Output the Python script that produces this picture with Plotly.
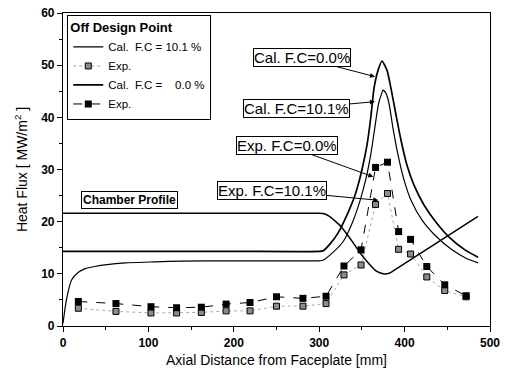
import plotly.graph_objects as go

# ---- data -----------------------------------------------------------------
# Calculated heat flux, film cooling 10.1 %
cal_fc101_x = [0, 4, 10, 18, 26, 37, 49, 73, 108, 139, 200, 260, 300, 304.4,
               318, 328.5, 339, 347.4, 354.4, 360.3, 365, 369.6, 373.2, 374.7,
               378.2, 381.7, 386.4, 392.3, 399.3, 407.5, 420.4, 436.8, 455.5,
               471.9, 486]
cal_fc101_y = [0.5, 5.0, 8.8, 10.3, 11.0, 11.4, 11.7, 12.1, 12.3, 12.45, 12.5,
               12.5, 12.5, 12.6, 14.4, 16.3, 19.9, 23.8, 28.0, 32.8, 37.9,
               42.7, 44.6, 45.2, 44.6, 42.7, 37.9, 32.8, 28.0, 24.1, 20.3,
               17.2, 14.6, 13.0, 12.1]

# Calculated heat flux, film cooling 0.0 %
cal_fc00_x = [0, 100, 200, 300, 304.4, 313, 322, 332.6, 342, 350, 356,
              360.7, 364.2, 368.9, 373.5, 379.4, 384, 390, 395.8, 402.8,
              411, 422.7, 436.8, 453, 470.7, 486]
cal_fc00_y = [14.3, 14.3, 14.3, 14.3, 14.4, 15.8, 17.8, 21.3, 25.1, 29.9,
              34.7, 40.4, 45.6, 49.0, 50.8, 49.0, 45.6, 40.4, 35.6, 30.8,
              27.0, 23.2, 19.9, 16.9, 14.6, 13.2]

# Chamber profile
chamber_x = [0, 100, 200, 300, 306, 312, 318, 326, 337, 348, 358, 367, 375,
             382, 388, 486]
chamber_y = [21.6, 21.6, 21.6, 21.6, 21.5, 21.0, 20.2, 19.0, 16.6, 14.0,
             12.0, 10.5, 10.0, 10.1, 10.7, 21.0]

# Measured heat flux
exp_x = [18, 62, 103, 133, 162, 191, 219, 250, 281, 308, 329, 349, 366, 380,
         393, 407, 426, 447, 472]
exp_fc00_y = [4.7, 4.3, 3.7, 3.5, 3.6, 4.2, 4.5, 5.6, 5.3, 5.7, 11.5, 14.6,
              30.4, 31.4, 18.1, 16.6, 11.4, 7.9, 5.8]
exp_fc101_y = [3.4, 2.8, 2.5, 2.5, 2.6, 2.9, 2.9, 3.8, 3.8, 4.3, 9.8, 11.7,
               23.3, 25.4, 14.7, 13.8, 9.4, 6.8, 5.6]

FONT = "Liberation Sans, Arial, sans-serif"
NB = "\u00a0"

fig = go.Figure()

fig.add_trace(go.Scatter(
    x=cal_fc101_x, y=cal_fc101_y, mode="lines",
    name=f"Cal.{NB}{NB}F.C{NB}={NB}10.1{NB}%",
    line=dict(color="black", width=1.2, shape="spline", smoothing=0.6)))

fig.add_trace(go.Scatter(
    x=exp_x, y=exp_fc101_y, mode="lines+markers", name="Exp.",
    line=dict(color="#aaaaaa", width=1, dash="dot"),
    marker=dict(symbol="square", size=6, color="#8c8c8c",
                line=dict(color="black", width=1))))

fig.add_trace(go.Scatter(
    x=cal_fc00_x, y=cal_fc00_y, mode="lines",
    name=f"Cal.{NB}{NB}F.C{NB}={NB}{NB}{NB}{NB}0.0{NB}%",
    line=dict(color="black", width=1.7, shape="spline", smoothing=0.6)))

fig.add_trace(go.Scatter(
    x=exp_x, y=exp_fc00_y, mode="lines+markers", name="Exp.",
    line=dict(color="black", width=1, dash="dash"),
    marker=dict(symbol="square", size=7, color="black")))

fig.add_trace(go.Scatter(
    x=chamber_x, y=chamber_y, mode="lines", showlegend=False,
    line=dict(color="black", width=1.5, shape="spline", smoothing=0.5)))

# boxed callouts
callouts = [
    ("Cal. F.C=0.0%", 365.3, 47.8, -73, -19),
    ("Cal. F.C=10.1%", 365.3, 43.0, -78, 7),
    ("Exp. F.C=0.0%", 363.3, 28.6, -86, -31),
    ("Exp. F.C=10.1%", 369.2, 24.1, -106, -10),
]
for text, hx, hy, ax, ay in callouts:
    fig.add_annotation(
        x=hx, y=hy, ax=ax, ay=ay, text=text, showarrow=True,
        arrowhead=2, arrowsize=1, arrowwidth=1, arrowcolor="black",
        font=dict(family=FONT, size=15, color="black"),
        bordercolor="black", borderwidth=1, borderpad=0, bgcolor="white")

fig.add_annotation(
    x=78, y=24.1, text="<b>Chamber Profile</b>", showarrow=False,
    font=dict(family=FONT, size=12, color="black"),
    bordercolor="black", borderwidth=1, borderpad=1, bgcolor="white")

axis_common = dict(
    showgrid=False, zeroline=False, showline=True, linecolor="black",
    linewidth=1.2, mirror=True, ticks="outside", ticklen=5, tickwidth=1.2,
    tickcolor="black", automargin=False,
    tickfont=dict(family=FONT, size=12, color="black", weight="bold"),
    title_font=dict(family=FONT, size=14, color="black"),
)

fig.update_xaxes(
    range=[0, 500], dtick=100, tick0=0,
    minor=dict(dtick=50, ticks="outside", ticklen=3, tickcolor="black"),
    title_text="Axial Distance from Faceplate [mm]", title_standoff=6,
    **axis_common)
fig.update_yaxes(
    range=[0, 60], dtick=10, tick0=0,
    minor=dict(dtick=5, ticks="outside", ticklen=3, tickcolor="black"),
    title_text="Heat Flux [ MW/m<sup>2</sup> ]", title_standoff=10,
    **axis_common)

fig.update_layout(
    width=506, height=374,
    margin=dict(l=63, r=16, t=13, b=48, autoexpand=False),
    paper_bgcolor="white", plot_bgcolor="white",
    font=dict(family=FONT, color="black"),
    legend=dict(
        x=0.01, y=0.995, xanchor="left", yanchor="top",
        bgcolor="white", bordercolor="black", borderwidth=1,
        font=dict(family=FONT, size=11.5, color="black"),
        title=dict(text="<b>Off Design Point</b>",
                   font=dict(family=FONT, size=13, color="black")),
        tracegroupgap=0, itemwidth=30),
)

fig.write_html("out.html")
